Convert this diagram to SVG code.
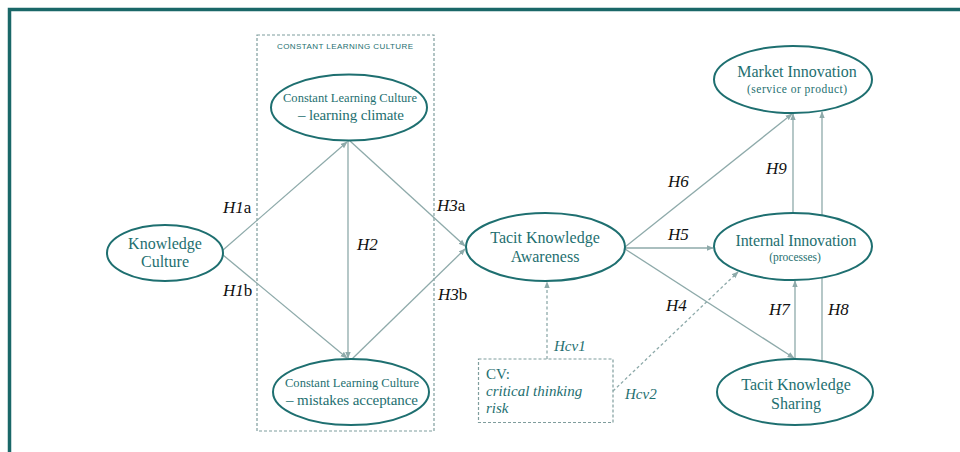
<svg xmlns="http://www.w3.org/2000/svg" width="960" height="452" viewBox="0 0 960 452">
<style>
.node ellipse{fill:#fff;stroke:#1e6f70;stroke-width:2}
.nt{font-family:"Liberation Serif",serif;fill:#1e6f70;text-anchor:middle}
.lbl{font-family:"Liberation Serif",serif;font-size:17px;fill:#111}
.i{font-style:italic}
.cvl{font-family:"Liberation Serif",serif;font-size:15px;fill:#1e6f70;font-style:italic}
.conn line{stroke:#8eaaaa;stroke-width:1.3;fill:none;marker-end:url(#ah)}
.conn line.dash{stroke-dasharray:3,2.5}
.box{fill:none;stroke:#7f9d9d;stroke-width:1.2;stroke-dasharray:3,2}
</style>
<defs>
<marker id="ah" viewBox="0 0 10 10" refX="9" refY="5" markerWidth="7" markerHeight="7" markerUnits="userSpaceOnUse" orient="auto">
<path d="M0,1 L10,5 L0,9 z" fill="#8eaaaa"/>
</marker>
</defs>
<rect width="960" height="452" fill="#fff"/>
<path d="M9.5,452 V9.5 H960" fill="none" stroke="#1a6768" stroke-width="3.5"/>

<g id="clc-group">
<rect class="box" x="257" y="35" width="177" height="396"/>
<text x="345" y="49" font-family="'Liberation Sans',sans-serif" font-size="8" fill="#1e6f70" text-anchor="middle" textLength="136" lengthAdjust="spacing">CONSTANT LEARNING CULTURE</text>
</g>

<g id="cv-box">
<rect class="box" x="478.5" y="359" width="134.5" height="63.5"/>
<text x="486" y="379" font-family="'Liberation Serif',serif" font-size="15" fill="#1e6f70">CV:</text>
<text x="486" y="396" class="cvl">critical thinking</text>
<text x="486" y="413" class="cvl">risk</text>
</g>

<g id="connectors" class="conn">
<line x1="223" y1="250" x2="347" y2="142"/>
<line x1="223" y1="255" x2="347" y2="358"/>
<line x1="348" y1="141" x2="348" y2="358"/>
<line x1="350" y1="141" x2="465" y2="246"/>
<line x1="352" y1="359" x2="465" y2="249"/>
<line x1="625" y1="247" x2="792" y2="114"/>
<line x1="625" y1="248" x2="713" y2="248"/>
<line x1="625" y1="249" x2="794" y2="358"/>
<line x1="793" y1="213" x2="793" y2="114"/>
<line x1="822" y1="361" x2="822" y2="112"/>
<line x1="795" y1="359" x2="795" y2="281"/>
<line class="dash" x1="547" y1="359" x2="547" y2="282"/>
<line class="dash" x1="613" y1="391" x2="738" y2="272"/>
</g>

<g id="knowledge-culture" class="node">
<ellipse cx="165" cy="253" rx="58" ry="28"/>
<text class="nt" x="165" y="249" font-size="16">Knowledge</text>
<text class="nt" x="165" y="267" font-size="16">Culture</text>
</g>

<g id="clc-climate" class="node">
<ellipse cx="349" cy="107.5" rx="78" ry="33"/>
<text class="nt" x="350" y="102" font-size="12.5" textLength="134" lengthAdjust="spacing">Constant Learning Culture</text>
<text class="nt" x="351" y="120" font-size="15" textLength="106" lengthAdjust="spacing">– learning climate</text>
</g>

<g id="clc-mistakes" class="node">
<ellipse cx="351" cy="392" rx="78" ry="33"/>
<text class="nt" x="352" y="387" font-size="12.5" textLength="134" lengthAdjust="spacing">Constant Learning Culture</text>
<text class="nt" x="352" y="405" font-size="15" textLength="132" lengthAdjust="spacing">– mistakes acceptance</text>
</g>

<g id="tacit-awareness" class="node">
<ellipse cx="545.5" cy="247" rx="79.5" ry="34"/>
<text class="nt" x="545" y="243" font-size="16">Tacit Knowledge</text>
<text class="nt" x="545" y="262" font-size="16">Awareness</text>
</g>

<g id="market-innovation" class="node">
<ellipse cx="793" cy="79.5" rx="79" ry="33.5"/>
<text class="nt" x="797" y="77" font-size="16">Market Innovation</text>
<text class="nt" x="797" y="93" font-size="11.5" textLength="100" lengthAdjust="spacing">(service  or product)</text>
</g>

<g id="internal-innovation" class="node">
<ellipse cx="793" cy="246.5" rx="79" ry="33.5"/>
<text class="nt" x="796" y="246" font-size="16" textLength="121" lengthAdjust="spacing">Internal Innovation</text>
<text class="nt" x="795" y="261" font-size="11.5">(processes)</text>
</g>

<g id="tacit-sharing" class="node">
<ellipse cx="795" cy="392" rx="78" ry="33"/>
<text class="nt" x="796" y="390" font-size="16">Tacit Knowledge</text>
<text class="nt" x="796" y="409" font-size="16">Sharing</text>
</g>

<g id="labels">
<text class="lbl" x="223" y="213"><tspan class="i">H1</tspan>a</text>
<text class="lbl" x="223" y="296"><tspan class="i">H1</tspan>b</text>
<text class="lbl i" x="357" y="250">H2</text>
<text class="lbl" x="437" y="211"><tspan class="i">H3</tspan>a</text>
<text class="lbl" x="438" y="300"><tspan class="i">H3</tspan>b</text>
<text class="lbl i" x="668" y="187">H6</text>
<text class="lbl i" x="668" y="240">H5</text>
<text class="lbl i" x="666" y="311">H4</text>
<text class="lbl i" x="766" y="174">H9</text>
<text class="lbl i" x="769" y="315">H7</text>
<text class="lbl i" x="828" y="315">H8</text>
<text class="cvl" x="554" y="351" font-size="14">Hcv1</text>
<text class="cvl" x="625" y="399" font-size="14">Hcv2</text>
</g>
</svg>
